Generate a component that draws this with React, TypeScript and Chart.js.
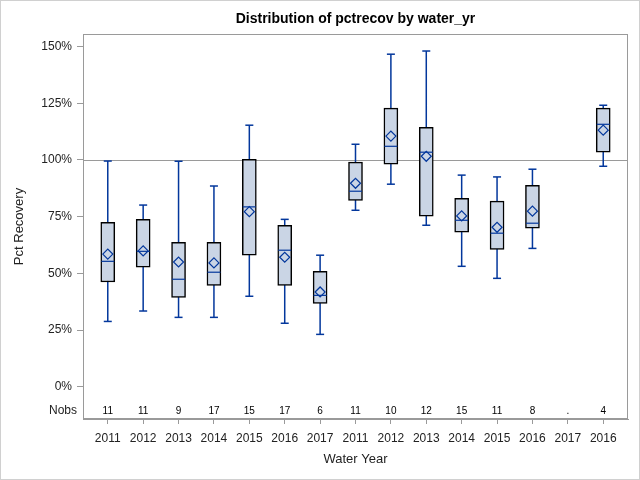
import { useEffect, useRef } from 'react';
import { Chart, registerables } from 'chart.js';

Chart.register(...registerables);

const categories = ['2011', '2012', '2013', '2014', '2015', '2016', '2017', '2011', '2012', '2013', '2014', '2015', '2016', '2017', '2016'];
const nobs = ['11', '11', '9', '17', '15', '17', '6', '11', '10', '12', '15', '11', '8', '.', '4'];
const whiskerLow = [28.8, 33.4, 30.6, 30.6, 39.9, 28.0, 23.1, 77.8, 89.3, 71.2, 53.1, 47.8, 61.0, null, 97.2];
const q1 = [46.2, 52.7, 39.4, 44.7, 58.0, 44.7, 36.8, 82.2, 98.1, 75.2, 68.1, 60.6, 69.9, null, 103.4];
const median = [55.3, 59.7, 47.4, 50.5, 79.3, 60.2, 40.3, 86.2, 106.0, 103.4, 73.4, 67.7, 72.1, null, 115.7];
const q3 = [72.5, 73.8, 63.7, 63.7, 100.3, 71.2, 50.9, 99.0, 122.8, 114.4, 83.1, 81.8, 88.8, null, 122.8];
const whiskerHigh = [99.5, 80.1, 99.4, 88.5, 115.3, 73.8, 58.0, 106.9, 146.6, 148.0, 93.3, 92.5, 95.9, null, 124.1];
const mean = [58.5, 59.9, 55.0, 54.6, 77.2, 57.1, 41.8, 89.7, 110.5, 101.6, 75.3, 70.3, 77.4, null, 113.1];
const yTicks = [0, 25, 50, 75, 100, 125, 150];
const refValue = 100;
const nobsY = -10.6;
const titleText = 'Distribution of pctrecov by water_yr';

const FONT = "'Liberation Sans', Arial, sans-serif";
const BLUE = '#03379c';
const FILL = '#cad5e5';
const GRAY = '#9a9a9a';

export default function App() {
  const ref = useRef<HTMLCanvasElement | null>(null);

  useEffect(() => {
    document.body.style.margin = '0';
    const canvas = ref.current;
    if (!canvas) return;
    const valid = categories.map((_, i) => i).filter((i) => q1[i] != null);

    const whiskerData: any[] = [];
    valid.forEach((i) => {
      whiskerData.push({ x: i, y: whiskerLow[i] }, { x: i, y: whiskerHigh[i] }, { x: i + 0.5, y: null });
    });
    const capData: any[] = [];
    valid.forEach((i) => {
      capData.push({ x: i, y: whiskerLow[i] }, { x: i, y: whiskerHigh[i] });
    });

    const overlay = {
      id: 'overlay',
      beforeDatasetsDraw(chart: any) {
        const { ctx, chartArea, scales } = chart;
        const y = Math.round(scales.y.getPixelForValue(refValue)) + 0.5;
        ctx.save();
        ctx.strokeStyle = GRAY;
        ctx.lineWidth = 1;
        ctx.beginPath();
        ctx.moveTo(chartArea.left, y);
        ctx.lineTo(chartArea.right, y);
        ctx.stroke();
        ctx.restore();
      },
      afterDraw(chart: any) {
        const { ctx, chartArea, scales } = chart;
        ctx.save();
        ctx.strokeStyle = GRAY;
        ctx.lineWidth = 1;
        ctx.strokeRect(
          Math.round(chartArea.left) + 0.5,
          Math.round(chartArea.top) + 0.5,
          Math.round(chartArea.right - chartArea.left) - 1,
          Math.round(chartArea.bottom - chartArea.top) - 1
        );
        ctx.strokeStyle = '#d0d0d0';
        ctx.strokeRect(0.5, 0.5, chart.width - 1, chart.height - 1);
        ctx.fillStyle = '#000';
        ctx.font = `bold 14px ${FONT}`;
        ctx.textAlign = 'center';
        ctx.textBaseline = 'middle';
        ctx.fillText(titleText, (chartArea.left + chartArea.right) / 2, 19);
        const py = scales.y.getPixelForValue(nobsY);
        ctx.font = `10px ${FONT}`;
        categories.forEach((_, i) => {
          ctx.fillText(nobs[i], scales.x.getPixelForValue(i), py);
        });
        ctx.font = `12px ${FONT}`;
        ctx.textAlign = 'right';
        ctx.fillStyle = '#222';
        ctx.fillText('Nobs', chartArea.left - 6, py);
        ctx.restore();
      },
    };

    const chart = new Chart(canvas, {
      type: 'bar',
      data: {
        datasets: [
          {
            type: 'line',
            data: whiskerData,
            borderColor: BLUE,
            borderWidth: 1.5,
            pointRadius: 0,
            spanGaps: false,
            order: 5,
          } as any,
          {
            type: 'bar',
            data: valid.map((i) => ({ x: i, y: [q1[i], q3[i]] })),
            backgroundColor: FILL,
            borderColor: '#000',
            borderWidth: 1.5,
            borderSkipped: false,
            barThickness: 14,
            grouped: false,
            order: 4,
          } as any,
          {
            type: 'scatter',
            data: capData,
            pointStyle: 'line',
            pointRadius: 4,
            borderColor: BLUE,
            borderWidth: 1.5,
            order: 3,
          } as any,
          {
            type: 'scatter',
            data: valid.map((i) => ({ x: i, y: median[i] })),
            pointStyle: 'line',
            pointRadius: 6.5,
            borderColor: BLUE,
            borderWidth: 1.2,
            order: 2,
          } as any,
          {
            type: 'scatter',
            data: valid.map((i) => ({ x: i, y: mean[i] })),
            pointStyle: 'rectRot',
            pointRadius: 5,
            borderColor: BLUE,
            backgroundColor: 'rgba(0,0,0,0)',
            borderWidth: 1.2,
            order: 1,
          } as any,
        ],
      },
      options: {
        animation: false,
        responsive: false,
        events: [],
        layout: { padding: { top: 34, right: 12, left: 0, bottom: 0 } },
        plugins: {
          legend: { display: false },
          tooltip: { enabled: false },
          title: { display: false },
        },
        scales: {
          x: {
            type: 'linear',
            offset: false,
            min: -0.7,
            max: 14.7,
            afterBuildTicks: (axis: any) => {
              axis.ticks = categories.map((_, i) => ({ value: i }));
            },
            afterFit: (axis: any) => {
              axis.height = 61;
            },
            ticks: {
              autoSkip: false,
              maxRotation: 0,
              padding: 7,
              color: '#222',
              font: { family: FONT, size: 12 },
              callback: (v: any) => categories[v as number] ?? '',
            },
            grid: { offset: false, drawOnChartArea: false, drawTicks: true, tickLength: 5, color: GRAY },
            border: { color: GRAY },
            title: {
              display: true,
              text: 'Water Year',
              color: '#222',
              font: { family: FONT, size: 13 },
              padding: { top: 4, bottom: 13 },
            },
          },
          y: {
            type: 'linear',
            min: -14.2,
            max: 155.5,
            afterBuildTicks: (axis: any) => {
              axis.ticks = yTicks.map((v) => ({ value: v }));
            },
            afterFit: (axis: any) => {
              axis.width = 83;
            },
            ticks: {
              padding: 5,
              color: '#222',
              font: { family: FONT, size: 12 },
              callback: (v: any) => `${v}%`,
            },
            grid: { drawOnChartArea: false, drawTicks: true, tickLength: 6, color: GRAY },
            border: { color: GRAY },
            title: {
              display: true,
              text: 'Pct Recovery',
              color: '#222',
              font: { family: FONT, size: 13 },
              padding: { top: 12, bottom: 4 },
            },
          },
        },
      },
      plugins: [overlay],
    });

    return () => chart.destroy();
  }, []);

  return <canvas ref={ref} width={640} height={480} style={{ display: 'block' }} />;
}
